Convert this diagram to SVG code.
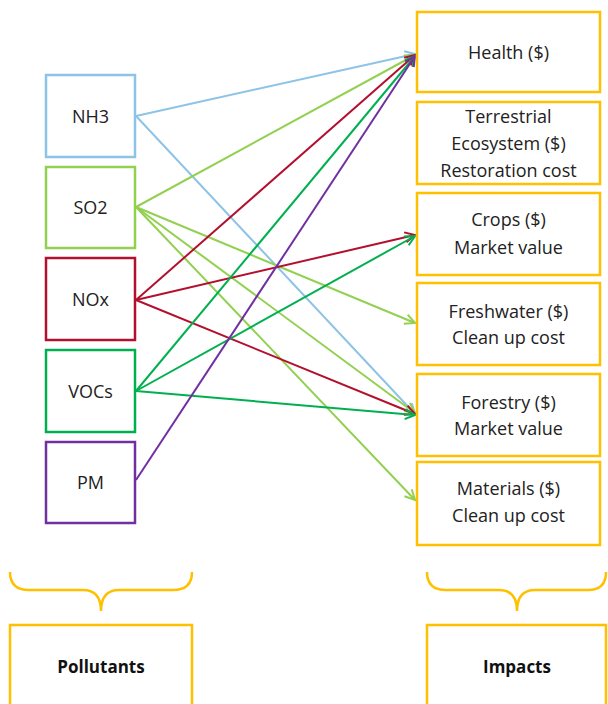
<svg xmlns="http://www.w3.org/2000/svg" width="608" height="704" viewBox="0 0 608 704">
<style>
.box{fill:#fff;stroke-width:2.5}
.imp{stroke:#FFC000}
.t{font-family:"Open Sans","Liberation Sans",sans-serif;font-size:18px;fill:#222;text-anchor:middle}
.b{font-weight:bold;font-size:17px;fill:#111}
.c{fill:none;stroke-width:2}
.brace{fill:none;stroke:#FFC000;stroke-width:2.5}
</style>
<defs>
<marker id="aB" markerUnits="userSpaceOnUse" markerWidth="14" markerHeight="14" refX="11" refY="6" orient="auto"><path d="M1,1 L11,6 L1,11" fill="none" stroke="#8DC3E6" stroke-width="2"/></marker>
<marker id="aLG" markerUnits="userSpaceOnUse" markerWidth="14" markerHeight="14" refX="11" refY="6" orient="auto"><path d="M1,1 L11,6 L1,11" fill="none" stroke="#92D050" stroke-width="2"/></marker>
<marker id="aR" markerUnits="userSpaceOnUse" markerWidth="14" markerHeight="14" refX="11" refY="6" orient="auto"><path d="M1,1 L11,6 L1,11" fill="none" stroke="#B2102E" stroke-width="2"/></marker>
<marker id="aG" markerUnits="userSpaceOnUse" markerWidth="14" markerHeight="14" refX="11" refY="6" orient="auto"><path d="M1,1 L11,6 L1,11" fill="none" stroke="#00B050" stroke-width="2"/></marker>
<marker id="aP" markerUnits="userSpaceOnUse" markerWidth="14" markerHeight="14" refX="11" refY="6" orient="auto"><path d="M1,1 L11,6 L1,11" fill="none" stroke="#7030A0" stroke-width="2"/></marker>
</defs>
<rect width="608" height="704" fill="#fff"/>

<g id="connectors">
<line class="c" x1="136" y1="116" x2="415" y2="54" stroke="#8DC3E6" marker-end="url(#aB)"/>
<line class="c" x1="136" y1="116" x2="415" y2="414" stroke="#8DC3E6" marker-end="url(#aB)"/>
<line class="c" x1="136" y1="207" x2="415" y2="55" stroke="#92D050" marker-end="url(#aLG)"/>
<line class="c" x1="136" y1="207" x2="415" y2="323" stroke="#92D050" marker-end="url(#aLG)"/>
<line class="c" x1="136" y1="207" x2="415" y2="413" stroke="#92D050" marker-end="url(#aLG)"/>
<line class="c" x1="136" y1="207" x2="415" y2="500" stroke="#92D050" marker-end="url(#aLG)"/>
<line class="c" x1="136" y1="300" x2="415" y2="55" stroke="#B2102E" marker-end="url(#aR)"/>
<line class="c" x1="136" y1="300" x2="415" y2="235" stroke="#B2102E" marker-end="url(#aR)"/>
<line class="c" x1="136" y1="300" x2="415" y2="414" stroke="#B2102E" marker-end="url(#aR)"/>
<line class="c" x1="136" y1="391" x2="415" y2="56" stroke="#00B050" marker-end="url(#aG)"/>
<line class="c" x1="136" y1="391" x2="415" y2="236" stroke="#00B050" marker-end="url(#aG)"/>
<line class="c" x1="136" y1="391" x2="415" y2="415" stroke="#00B050" marker-end="url(#aG)"/>
<line class="c" x1="136" y1="480" x2="415" y2="56" stroke="#7030A0" marker-end="url(#aP)"/>
</g>

<g id="nh3"><rect class="box" x="46" y="75" width="89" height="82" stroke="#8DC3E6"/><text class="t" x="90.5" y="123">NH3</text></g>
<g id="so2"><rect class="box" x="46" y="167" width="89" height="81" stroke="#92D050"/><text class="t" x="90.5" y="214">SO2</text></g>
<g id="nox"><rect class="box" x="46" y="258" width="89" height="82" stroke="#B2102E"/><text class="t" x="90.5" y="306">NOx</text></g>
<g id="vocs"><rect class="box" x="46" y="350" width="89" height="82" stroke="#00B050"/><text class="t" x="90.5" y="398">VOCs</text></g>
<g id="pm"><rect class="box" x="46" y="442" width="89" height="81" stroke="#7030A0"/><text class="t" x="90.5" y="489">PM</text></g>

<g id="health"><rect class="box imp" x="417" y="12" width="183" height="80"/><text class="t" x="508.5" y="59">Health ($)</text></g>
<g id="terrestrial"><rect class="box imp" x="417" y="102" width="183" height="82"/><text class="t" x="508.5" y="123">Terrestrial</text><text class="t" x="508.5" y="150">Ecosystem ($)</text><text class="t" x="508.5" y="177">Restoration cost</text></g>
<g id="crops"><rect class="box imp" x="417" y="193" width="183" height="82"/><text class="t" x="508.5" y="226">Crops ($)</text><text class="t" x="508.5" y="254">Market value</text></g>
<g id="freshwater"><rect class="box imp" x="417" y="283" width="183" height="82"/><text class="t" x="508.5" y="318">Freshwater ($)</text><text class="t" x="508.5" y="344">Clean up cost</text></g>
<g id="forestry"><rect class="box imp" x="417" y="374" width="183" height="82"/><text class="t" x="508.5" y="409">Forestry ($)</text><text class="t" x="508.5" y="435">Market value</text></g>
<g id="materials"><rect class="box imp" x="417" y="462" width="183" height="83"/><text class="t" x="508.5" y="495">Materials ($)</text><text class="t" x="508.5" y="522">Clean up cost</text></g>

<g id="brace-left"><path class="brace" d="M10,572 Q10,590 29,590 L83,590 Q101,590 101,611 Q101,590 119,590 L173,590 Q192,590 192,572"/></g>
<g id="brace-right"><path class="brace" d="M427,572 Q427,590 446,590 L499,590 Q517,590 517,611 Q517,590 535,590 L588,590 Q606,590 606,572"/></g>

<g id="pollutants"><rect class="box imp" x="10" y="625" width="182" height="100"/><text class="t b" x="101" y="673">Pollutants</text></g>
<g id="impacts"><rect class="box imp" x="427" y="625" width="179" height="100"/><text class="t b" x="517" y="673">Impacts</text></g>
</svg>
